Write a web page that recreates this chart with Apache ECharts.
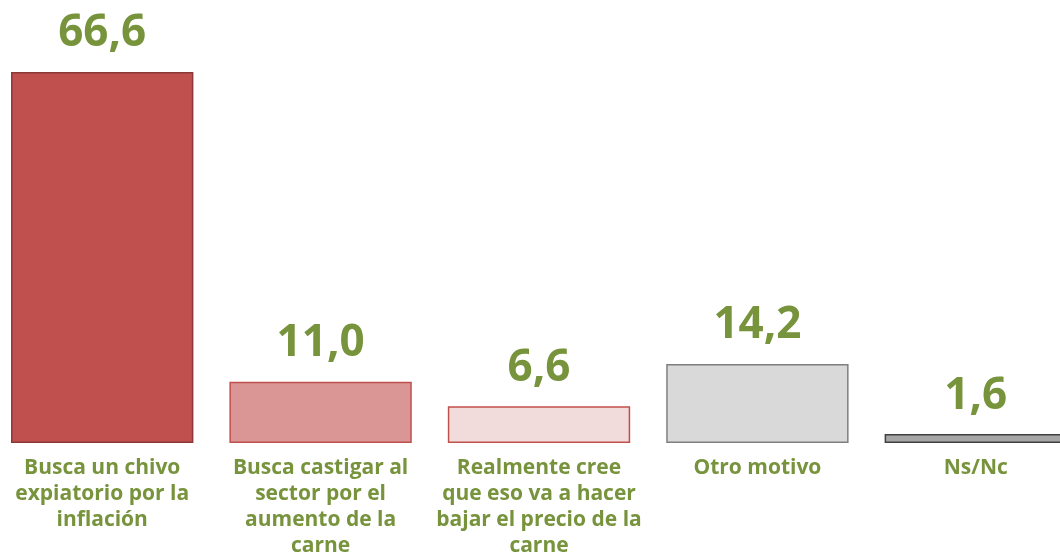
<!DOCTYPE html>
<html>
<head>
<meta charset="utf-8">
<style>
  html, body { margin: 0; padding: 0; background: #fff; overflow: hidden; }
  #chart { width: 1092px; height: 559px; margin-left: -7px; }
</style>
</head>
<body>
<div id="chart"></div>
<script src="https://cdn.jsdelivr.net/npm/echarts@6/dist/echarts.min.js"></script>
<script>
var categories = [
  'Busca un chivo\nexpiatorio por la\ninflación',
  'Busca castigar al\nsector por el\naumento de la\ncarne',
  'Realmente cree\nque eso va a hacer\nbajar el precio de la\ncarne',
  'Otro motivo',
  'Ns/Nc'
];
var values = [66.6, 11.0, 6.6, 14.2, 1.6];
var fills = ['#C0504D', '#D99694', '#F2DCDB', '#D9D9D9', '#A6A6A6'];
var borders = ['#8C3836', '#C0504D', '#C0504D', '#7F7F7F', '#404040'];

var green = '#77933C';
var chart = echarts.init(document.getElementById('chart'));

var barData = values.map(function (v, i) {
  return {
    value: v,
    itemStyle: { color: fills[i], borderColor: borders[i], borderWidth: 1.5 }
  };
});

chart.setOption({
  animation: false,
  grid: { left: 0, right: 0, top: 53, bottom: 114, containLabel: false },
  xAxis: {
    type: 'category',
    data: categories,
    axisLine: { show: false },
    axisTick: { show: false },
    axisLabel: {
      interval: 0,
      margin: 12,
      color: green,
      fontFamily: 'Open Sans',
      fontWeight: 'bold',
      fontSize: 21,
      lineHeight: 26,
      verticalAlign: 'top'
    }
  },
  yAxis: {
    type: 'value',
    min: 0,
    max: 70,
    show: false,
    splitLine: { show: false }
  },
  series: [{
    type: 'bar',
    data: barData,
    barWidth: '83.5%',
    label: {
      show: true,
      position: 'top',
      distance: 16,
      color: green,
      fontFamily: 'Open Sans',
      fontWeight: 'bold',
      fontSize: 44,
      formatter: function (p) {
        return p.value.toFixed(1).replace('.', ',');
      }
    }
  }]
});
</script>
</body>
</html>
